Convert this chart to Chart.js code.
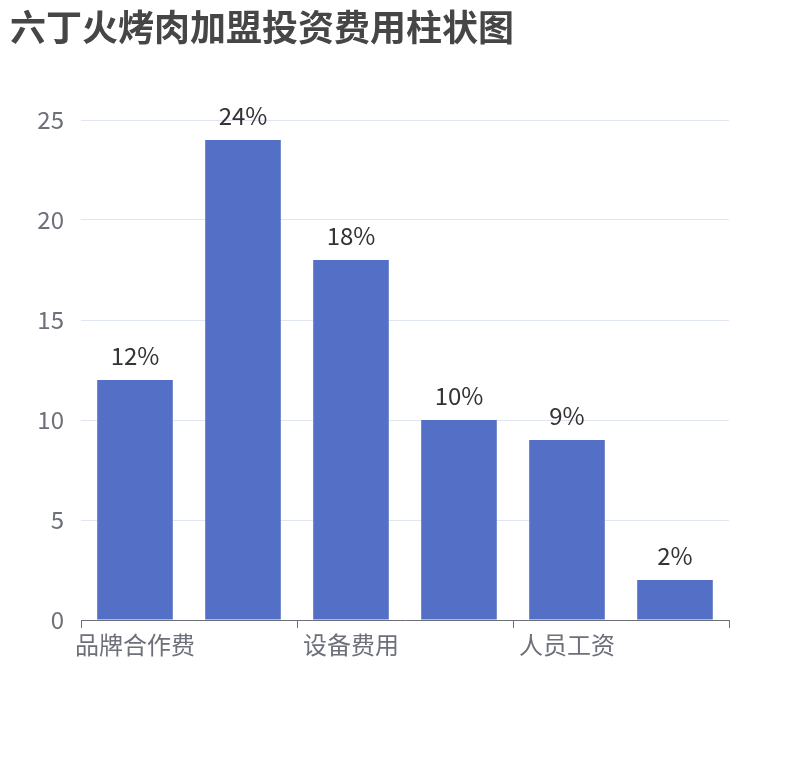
<!DOCTYPE html>
<html>
<head>
<meta charset="utf-8">
<script src="https://cdn.jsdelivr.net/npm/chart.js@4/dist/chart.umd.min.js"></script>
<style>
    body { margin: 0; background: #fff; }
    #wrap { width: 810px; height: 760px; }
</style>
</head>
<body>
<div id="wrap"><canvas id="investChart"></canvas></div>
<script>
// Categorias (só os pares aparecem no eixo, como no original)
const categorias = ['品牌合作费', '加盟费用', '设备费用', '装修费用', '人员工资', '其他费用'];
const valores = [12, 24, 18, 10, 9, 2];
const yTicks = [0, 5, 10, 15, 20, 25];

const fonte = '"Noto Sans CJK SC", "Noto Sans", sans-serif';

// Rótulos "xx%" em cima das barras
const rotulosPlugin = {
    id: 'rotulos',
    afterDatasetsDraw(chart) {
        const ctx = chart.ctx;
        const meta = chart.getDatasetMeta(0);
        ctx.save();
        ctx.font = '24px ' + fonte;
        ctx.fillStyle = '#333333';
        ctx.textAlign = 'center';
        ctx.textBaseline = 'middle';
        meta.data.forEach((bar, i) => {
            ctx.fillText(valores[i] + '%', bar.x, bar.y - 24);
        });
        ctx.restore();
    }
};

const ctx = document.getElementById('investChart').getContext('2d');
new Chart(ctx, {
    type: 'bar',
    data: {
        labels: categorias,
        datasets: [{
            data: valores,
            backgroundColor: '#5470c6',
            barPercentage: 0.7,
            categoryPercentage: 1.0
        }]
    },
    options: {
        responsive: true,
        maintainAspectRatio: false,
        animation: false,
        layout: { padding: { left: 10, right: 81, top: 0, bottom: 0 } },
        plugins: {
            legend: { display: false },
            tooltip: { enabled: false },
            title: {
                display: true,
                text: '六丁火烤肉加盟投资费用柱状图',
                align: 'start',
                color: '#464646',
                font: { family: fonte, size: 36, weight: 'bold', lineHeight: 1.2 },
                padding: { top: 6, bottom: 70.8 }
            }
        },
        scales: {
            x: {
                offset: true,
                border: { display: true, color: '#6E7079', width: 1 },
                grid: {
                    display: true,
                    drawOnChartArea: false,
                    drawTicks: true,
                    tickLength: 8,
                    offset: true,
                    color: (c) => (c.index === undefined || c.index % 2 === 0) ? '#6E7079' : 'rgba(0,0,0,0)'
                },
                ticks: {
                    autoSkip: false,
                    maxRotation: 0,
                    padding: 2,
                    color: '#6E7079',
                    font: { family: fonte, size: 24 },
                    callback: function(value, index) {
                        return index % 2 === 0 ? categorias[index] : '';
                    }
                },
                afterFit: function(scale) { scale.height = 140; }
            },
            y: {
                min: 0,
                max: 25,
                border: { display: false },
                grid: { color: '#E0E6F1', drawTicks: false },
                ticks: {
                    stepSize: 5,
                    padding: 17,
                    color: '#6E7079',
                    font: { family: fonte, size: 24 },
                    callback: function(value) {
                        return yTicks.includes(value) ? value : '';
                    }
                },
                afterFit: function(scale) { scale.width = 71; }
            }
        }
    },
    plugins: [rotulosPlugin]
});
</script>
</body>
</html>
